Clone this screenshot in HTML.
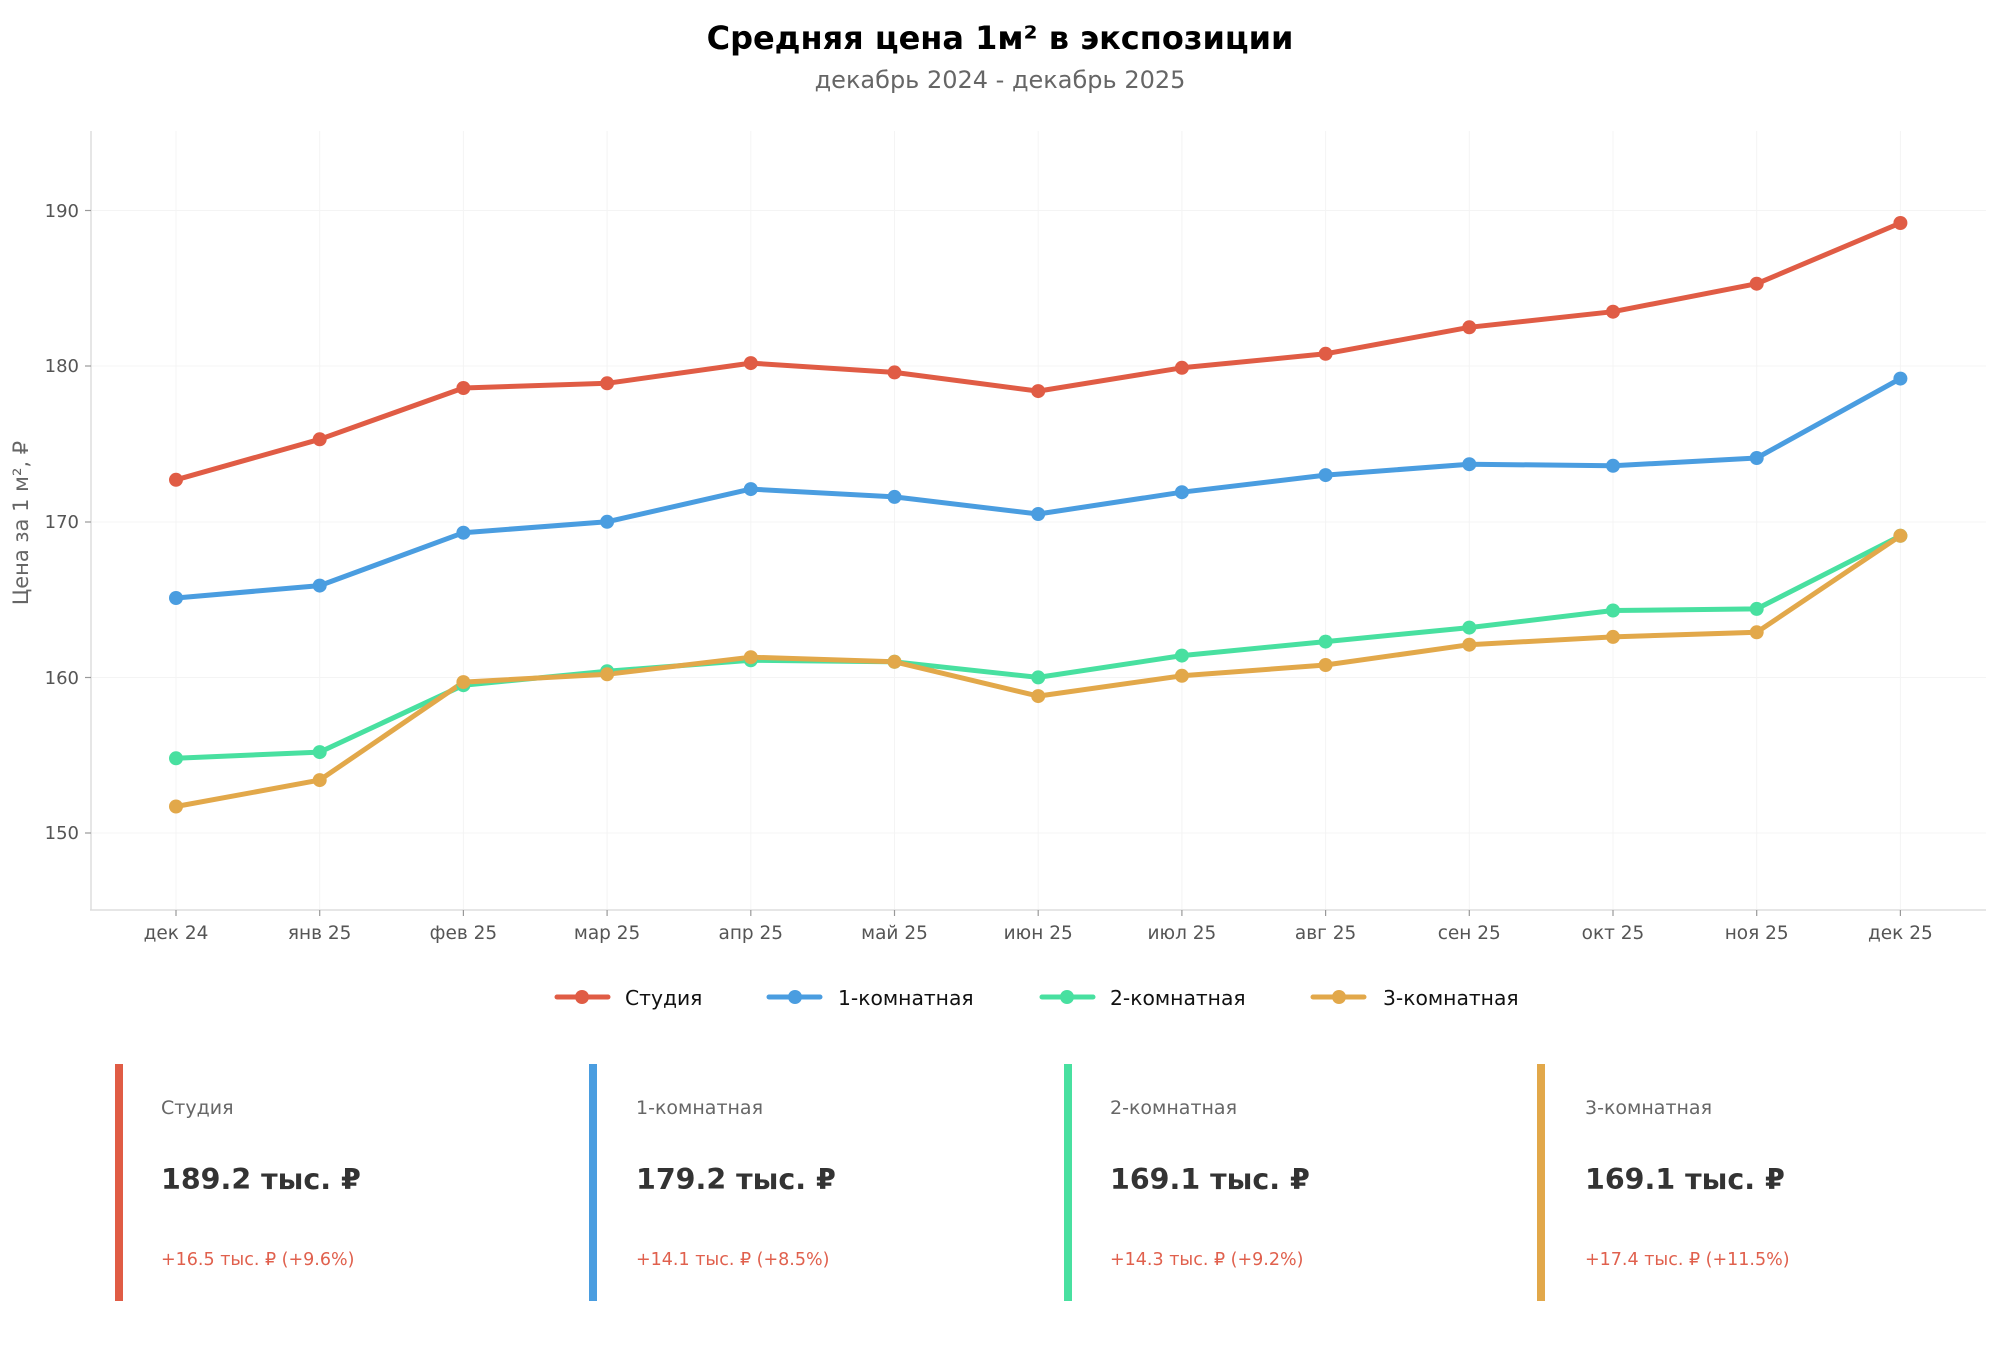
<!DOCTYPE html>
<html><head><meta charset="utf-8"><style>
body{margin:0;background:#fff;}
svg text{font-family:"DejaVu Sans","Liberation Sans",sans-serif;}
</style></head><body>
<svg width="2000" height="1364" viewBox="0 0 2000 1364" xmlns="http://www.w3.org/2000/svg">
<text x="1000" y="49" text-anchor="middle" font-size="32" font-weight="bold" fill="#000">Средняя цена 1м² в экспозиции</text>
<text x="1000" y="88" text-anchor="middle" font-size="24" fill="#666">декабрь 2024 - декабрь 2025</text>
<g stroke="#f4f4f4" stroke-width="1">
<line x1="91" x2="1986" y1="210.5" y2="210.5"/><line x1="91" x2="1986" y1="366" y2="366"/><line x1="91" x2="1986" y1="522" y2="522"/><line x1="91" x2="1986" y1="677.5" y2="677.5"/><line x1="91" x2="1986" y1="833" y2="833"/>
<line x1="176" x2="176" y1="131" y2="909"/><line x1="319.7" x2="319.7" y1="131" y2="909"/><line x1="463.4" x2="463.4" y1="131" y2="909"/><line x1="607.1" x2="607.1" y1="131" y2="909"/><line x1="750.8" x2="750.8" y1="131" y2="909"/><line x1="894.5" x2="894.5" y1="131" y2="909"/><line x1="1038.2" x2="1038.2" y1="131" y2="909"/><line x1="1181.9" x2="1181.9" y1="131" y2="909"/><line x1="1325.6" x2="1325.6" y1="131" y2="909"/><line x1="1469.3" x2="1469.3" y1="131" y2="909"/><line x1="1613" x2="1613" y1="131" y2="909"/><line x1="1756.7" x2="1756.7" y1="131" y2="909"/><line x1="1900.4" x2="1900.4" y1="131" y2="909"/>
</g>
<g stroke="#ddd" stroke-width="1.5"><line x1="91" x2="91" y1="131" y2="910"/><line x1="90" x2="1986" y1="910" y2="910"/></g>
<g stroke="#999" stroke-width="1.2">
<line x1="85" x2="91" y1="210.5" y2="210.5"/><line x1="85" x2="91" y1="366" y2="366"/><line x1="85" x2="91" y1="522" y2="522"/><line x1="85" x2="91" y1="677.5" y2="677.5"/><line x1="85" x2="91" y1="833" y2="833"/>
<line x1="176" x2="176" y1="910" y2="916"/><line x1="319.7" x2="319.7" y1="910" y2="916"/><line x1="463.4" x2="463.4" y1="910" y2="916"/><line x1="607.1" x2="607.1" y1="910" y2="916"/><line x1="750.8" x2="750.8" y1="910" y2="916"/><line x1="894.5" x2="894.5" y1="910" y2="916"/><line x1="1038.2" x2="1038.2" y1="910" y2="916"/><line x1="1181.9" x2="1181.9" y1="910" y2="916"/><line x1="1325.6" x2="1325.6" y1="910" y2="916"/><line x1="1469.3" x2="1469.3" y1="910" y2="916"/><line x1="1613" x2="1613" y1="910" y2="916"/><line x1="1756.7" x2="1756.7" y1="910" y2="916"/><line x1="1900.4" x2="1900.4" y1="910" y2="916"/>
</g>
<g font-size="18" fill="#555" text-anchor="end">
<text x="79" y="217">190</text><text x="79" y="372">180</text><text x="79" y="528">170</text><text x="79" y="684">160</text><text x="79" y="839">150</text>
</g>
<text transform="translate(28,523) rotate(-90)" text-anchor="middle" font-size="21" fill="#666">Цена за 1 м², ₽</text>
<g font-size="18.5" fill="#555" text-anchor="middle">
<text x="176" y="939">дек 24</text><text x="319.7" y="939">янв 25</text><text x="463.4" y="939">фев 25</text><text x="607.1" y="939">мар 25</text><text x="750.8" y="939">апр 25</text><text x="894.5" y="939">май 25</text><text x="1038.2" y="939">июн 25</text><text x="1181.9" y="939">июл 25</text><text x="1325.6" y="939">авг 25</text><text x="1469.3" y="939">сен 25</text><text x="1613" y="939">окт 25</text><text x="1756.7" y="939">ноя 25</text><text x="1900.4" y="939">дек 25</text>
</g>
<g fill="none" stroke-width="5" stroke-linejoin="round" stroke-linecap="round">
<polyline stroke="#e05c45" points="176,479.8 319.7,439.3 463.4,388 607.1,383.3 750.8,363.1 894.5,372.4 1038.2,391.1 1181.9,367.8 1325.6,353.8 1469.3,327.3 1613,311.7 1756.7,283.7 1900.4,223"/>
<polyline stroke="#4a9de0" points="176,598 319.7,585.6 463.4,532.7 607.1,521.8 750.8,489.1 894.5,496.9 1038.2,514 1181.9,492.2 1325.6,475.1 1469.3,464.2 1613,465.8 1756.7,458 1900.4,378.6"/>
<polyline stroke="#48e0a0" points="176,758.3 319.7,752.1 463.4,685.2 607.1,671.2 750.8,660.3 894.5,661.8 1038.2,677.4 1181.9,655.6 1325.6,641.6 1469.3,627.6 1613,610.5 1756.7,608.9 1900.4,535.8"/>
<polyline stroke="#e2a84a" points="176,806.5 319.7,780.1 463.4,682.1 607.1,674.3 750.8,657.2 894.5,661.8 1038.2,696.1 1181.9,675.8 1325.6,665 1469.3,644.7 1613,636.9 1756.7,632.3 1900.4,535.8"/>
</g>
<g fill="#e05c45"><circle cx="176" cy="479.8" r="7"/><circle cx="319.7" cy="439.3" r="7"/><circle cx="463.4" cy="388" r="7"/><circle cx="607.1" cy="383.3" r="7"/><circle cx="750.8" cy="363.1" r="7"/><circle cx="894.5" cy="372.4" r="7"/><circle cx="1038.2" cy="391.1" r="7"/><circle cx="1181.9" cy="367.8" r="7"/><circle cx="1325.6" cy="353.8" r="7"/><circle cx="1469.3" cy="327.3" r="7"/><circle cx="1613" cy="311.7" r="7"/><circle cx="1756.7" cy="283.7" r="7"/><circle cx="1900.4" cy="223" r="7"/></g>
<g fill="#4a9de0"><circle cx="176" cy="598" r="7"/><circle cx="319.7" cy="585.6" r="7"/><circle cx="463.4" cy="532.7" r="7"/><circle cx="607.1" cy="521.8" r="7"/><circle cx="750.8" cy="489.1" r="7"/><circle cx="894.5" cy="496.9" r="7"/><circle cx="1038.2" cy="514" r="7"/><circle cx="1181.9" cy="492.2" r="7"/><circle cx="1325.6" cy="475.1" r="7"/><circle cx="1469.3" cy="464.2" r="7"/><circle cx="1613" cy="465.8" r="7"/><circle cx="1756.7" cy="458" r="7"/><circle cx="1900.4" cy="378.6" r="7"/></g>
<g fill="#48e0a0"><circle cx="176" cy="758.3" r="7"/><circle cx="319.7" cy="752.1" r="7"/><circle cx="463.4" cy="685.2" r="7"/><circle cx="607.1" cy="671.2" r="7"/><circle cx="750.8" cy="660.3" r="7"/><circle cx="894.5" cy="661.8" r="7"/><circle cx="1038.2" cy="677.4" r="7"/><circle cx="1181.9" cy="655.6" r="7"/><circle cx="1325.6" cy="641.6" r="7"/><circle cx="1469.3" cy="627.6" r="7"/><circle cx="1613" cy="610.5" r="7"/><circle cx="1756.7" cy="608.9" r="7"/><circle cx="1900.4" cy="535.8" r="7"/></g>
<g fill="#e2a84a"><circle cx="176" cy="806.5" r="7"/><circle cx="319.7" cy="780.1" r="7"/><circle cx="463.4" cy="682.1" r="7"/><circle cx="607.1" cy="674.3" r="7"/><circle cx="750.8" cy="657.2" r="7"/><circle cx="894.5" cy="661.8" r="7"/><circle cx="1038.2" cy="696.1" r="7"/><circle cx="1181.9" cy="675.8" r="7"/><circle cx="1325.6" cy="665" r="7"/><circle cx="1469.3" cy="644.7" r="7"/><circle cx="1613" cy="636.9" r="7"/><circle cx="1756.7" cy="632.3" r="7"/><circle cx="1900.4" cy="535.8" r="7"/></g>
<g stroke-width="5" stroke-linecap="round">
<line x1="557" x2="608" y1="997" y2="997" stroke="#e05c45"/><circle cx="582" cy="997" r="7" fill="#e05c45"/>
<line x1="769" x2="820" y1="997" y2="997" stroke="#4a9de0"/><circle cx="795" cy="997" r="7" fill="#4a9de0"/>
<line x1="1042" x2="1093" y1="997" y2="997" stroke="#48e0a0"/><circle cx="1067" cy="997" r="7" fill="#48e0a0"/>
<line x1="1313" x2="1364" y1="997" y2="997" stroke="#e2a84a"/><circle cx="1339" cy="997" r="7" fill="#e2a84a"/>
</g>
<g font-size="20.3" fill="#111">
<text x="625" y="1005">Студия</text><text x="838" y="1005">1-комнатная</text><text x="1110" y="1005">2-комнатная</text><text x="1383" y="1005">3-комнатная</text>
</g>
<rect x="115" y="1064" width="8" height="237" fill="#e05c45"/>
<rect x="589" y="1064" width="8" height="237" fill="#4a9de0"/>
<rect x="1064" y="1064" width="8" height="237" fill="#48e0a0"/>
<rect x="1537" y="1064" width="8" height="237" fill="#e2a84a"/>
<g font-size="19" fill="#666">
<text x="161" y="1114">Студия</text><text x="636" y="1114">1-комнатная</text><text x="1110" y="1114">2-комнатная</text><text x="1585" y="1114">3-комнатная</text>
</g>
<g font-size="28.5" font-weight="bold" fill="#333">
<text x="161" y="1189">189.2 тыс. ₽</text><text x="636" y="1189">179.2 тыс. ₽</text><text x="1110" y="1189">169.1 тыс. ₽</text><text x="1585" y="1189">169.1 тыс. ₽</text>
</g>
<g font-size="17.5" fill="#e0604d">
<text x="161" y="1265">+16.5 тыс. ₽ (+9.6%)</text><text x="636" y="1265">+14.1 тыс. ₽ (+8.5%)</text><text x="1110" y="1265">+14.3 тыс. ₽ (+9.2%)</text><text x="1585" y="1265">+17.4 тыс. ₽ (+11.5%)</text>
</g>
</svg>
</body></html>
